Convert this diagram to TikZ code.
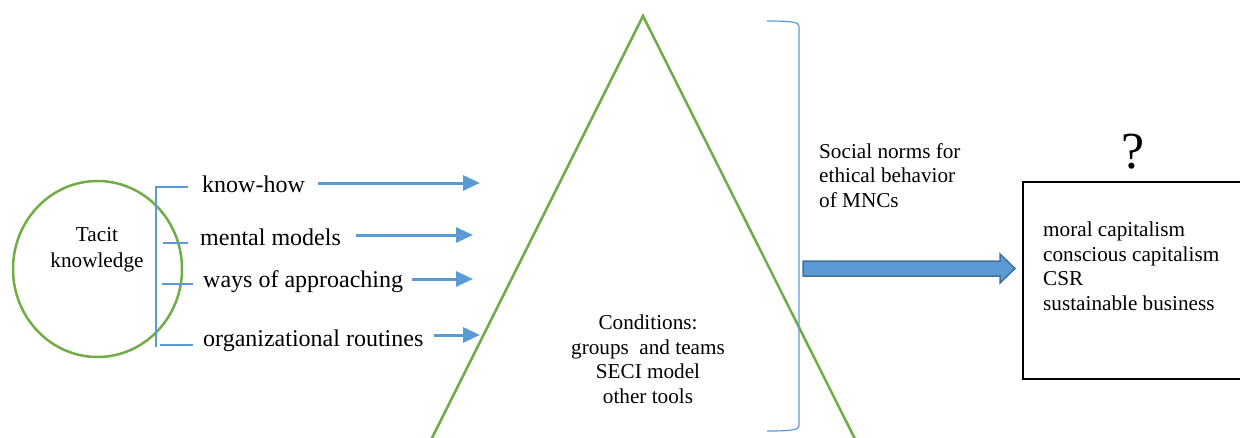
\documentclass[tikz,border=0pt]{standalone}
\usepackage{fontspec}
\setmainfont{Liberation Serif}
\usetikzlibrary{arrows.meta,shapes.geometric}
\definecolor{tgreen}{HTML}{70AD47}
\definecolor{tblue}{HTML}{5B9BD5}
\definecolor{tdblue}{HTML}{41719C}
\begin{document}
\begin{tikzpicture}[x=1pt,y=-1pt,
  lbl/.style={font=\fontsize{24}{28}\selectfont, inner sep=0pt, anchor=base west},
  sm/.style={font=\fontsize{21.2}{24.5}\selectfont, inner sep=0pt},
  thinblue/.style={draw=tblue, line width=1.2pt},
  flow/.style={draw=tblue, line width=3pt, -{Triangle[length=17pt,width=15pt]}},
  greenline/.style={draw=tgreen, line width=2.5pt}]
\useasboundingbox (0,0) rectangle (1240,437);
\clip (0,0) rectangle (1240,437);

% Tacit knowledge circle
\node[greenline, ellipse, minimum width=169pt, minimum height=176pt, inner sep=0pt] (tk) at (97.5,269) {};
\node[sm, anchor=base] (tacit) at (97,241) {Tacit};
\node[sm, anchor=base] (knowledge) at (97,267) {knowledge};

% left bracket
\draw[thinblue] (188,187) -- (156,187) -- (156,347);
\draw[thinblue] (163,243) -- (188,243);
\draw[thinblue] (162,284) -- (193,284);
\draw[thinblue] (160,345) -- (193,345);

% labels
\node[lbl] (kh) at (202,192) {know-how};
\node[lbl] (mm) at (200,245) {mental models};
\node[lbl] (wa) at (203,287) {ways of approaching};
\node[lbl] (org) at (203,346) {organizational routines};

% arrows
\coordinate (a1s) at (318,183); \coordinate (a1e) at (480,183);
\coordinate (a2s) at (356,235); \coordinate (a2e) at (473,235);
\coordinate (a3s) at (412,279); \coordinate (a3e) at (473,279);
\coordinate (a4s) at (434,335); \coordinate (a4e) at (480,335);
\draw[flow] (a1s) -- (a1e);
\draw[flow] (a2s) -- (a2e);
\draw[flow] (a3s) -- (a3e);
\draw[flow] (a4s) -- (a4e);

% triangle
\coordinate (apex) at (643,16);
\draw[greenline, line join=miter] (428.5,445) -- (apex) -- (858,445);
\node[sm, anchor=base, align=center] (cond) at (648,403) {Conditions:\\groups\ \ and teams\\SECI model\\other tools};

% right bracket
\draw[thinblue] (767,21) .. controls (790,21) and (799,22) .. (799,26) -- (799,426) .. controls (799,430) and (790,431) .. (767,431);

\node[sm, anchor=base west, align=left] (social) at (819,207) {Social norms for\\ethical behavior\\of MNCs};

% thick arrow
\draw[fill=tblue, draw=tdblue, line width=1.5pt, line join=miter] (803,261) -- (1000,261) -- (1000,254) -- (1015,268.5) -- (1000,283) -- (1000,276) -- (803,276) -- cycle;

% box
\node[draw=black, line width=1.5pt, anchor=north west, minimum width=240pt, minimum height=197pt, inner sep=0pt] (box) at (1022,181) {};
\node[sm, anchor=base west, align=left] (boxtext) at (1043,310) {moral capitalism\\conscious capitalism\\CSR\\sustainable business};

\node[font=\fontsize{52}{56}\selectfont, inner sep=0pt, anchor=base] (q) at (1133,168) {?};
\end{tikzpicture}
\end{document}
